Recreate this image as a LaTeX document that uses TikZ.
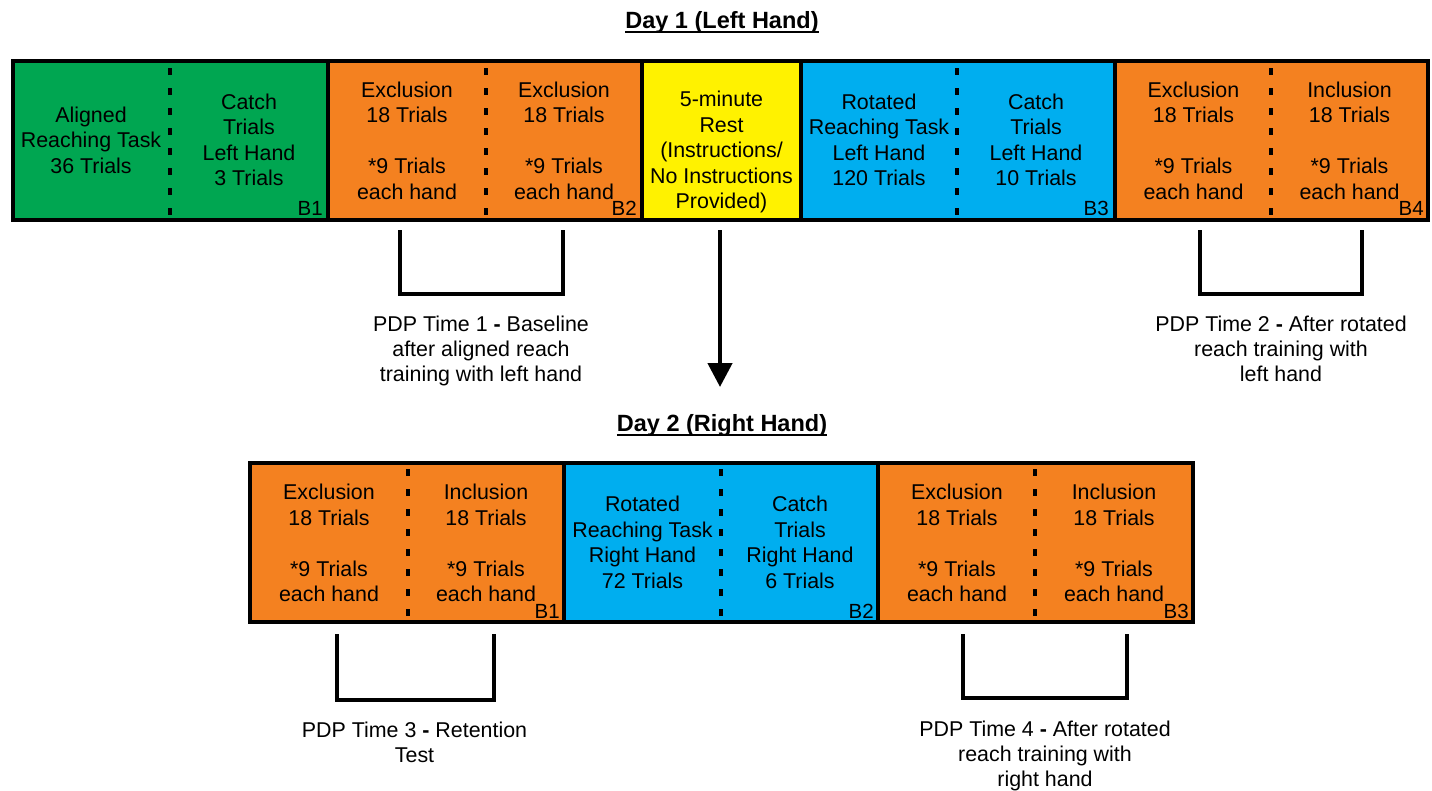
\documentclass[tikz,border=0pt]{standalone}
\usepackage{fontspec}
\setmainfont{Liberation Sans}
\usetikzlibrary{arrows.meta}
\definecolor{cgreen}{RGB}{0,166,81}
\definecolor{corange}{RGB}{244,129,32}
\definecolor{cyellow}{RGB}{255,242,0}
\definecolor{cblue}{RGB}{0,174,239}
\begin{document}
\begin{tikzpicture}[x=1pt,y=-1pt,
  block/.style={draw=black, line width=4pt, fill=#1, inner sep=0pt, outer sep=0pt, anchor=north west, minimum height=159pt},
  dashdiv/.style={draw=black, line width=3.6pt, dash pattern=on 7pt off 13pt},
  txt/.style={font=\fontsize{21.4}{25.5}\selectfont, align=center, inner sep=0pt},
  blabel/.style={font=\fontsize{20.5}{24}\selectfont, inner sep=0pt, anchor=base east},
  daytitle/.style={font=\fontsize{23.5}{28}\selectfont\bfseries, inner sep=0pt, outer sep=0pt, anchor=base},
  uline/.style={draw=black, line width=2pt},
  bracket/.style={draw=black, line width=4pt},
  pdp/.style={font=\fontsize{21.4}{25}\selectfont, align=center, inner sep=0pt},
  flow/.style={draw=black, line width=4.5pt, -{Triangle[width=24pt,length=24pt]}},
]
\useasboundingbox (0,0) rectangle (1432,790);

% ---------- Day 1 ----------
\node[daytitle] (d1) at (722,28) {Day 1 (Left Hand)};
\draw[uline] ([yshift=-3.5pt]d1.base west) -- ([yshift=-3.5pt]d1.base east);

\node[block=cgreen,  minimum width=315.5pt] (a1) at (12.5,60.5) {};
\node[block=corange, minimum width=314pt]   (a2) at (328,60.5) {};
\node[block=cyellow, minimum width=159pt]   (a3) at (642,60.5) {};
\node[block=cblue,   minimum width=314pt]   (a4) at (801,60.5) {};
\node[block=corange, minimum width=313pt]   (a5) at (1115,60.5) {};

\draw[dashdiv] (170,68) -- (170,218);
\draw[dashdiv] (486,68) -- (486,218);
\draw[dashdiv] (957,68) -- (957,218);
\draw[dashdiv] (1271,68) -- (1271,218);

\node[txt] (a1l) at (91,140) {Aligned\\Reaching Task\\36 Trials};
\node[txt] (a1r) at (249,140) {Catch\\Trials\\Left Hand\\3 Trials};
\node[txt] (a2l) at (407,140.5) {Exclusion\\18 Trials\\[25.5pt]{*}9 Trials\\each hand};
\node[txt] (a2r) at (564,140.5) {Exclusion\\18 Trials\\[25.5pt]{*}9 Trials\\each hand};
\node[txt] (a3c) at (721.5,152) {5-minute\\Rest\\(Instructions/\\No Instructions\\Provided)};
\node[txt] (a4l) at (879,140) {Rotated\\Reaching Task\\Left Hand\\120 Trials};
\node[txt] (a4r) at (1036,140) {Catch\\Trials\\Left Hand\\10 Trials};
\node[txt] (a5l) at (1193.5,140.5) {Exclusion\\18 Trials\\[25.5pt]{*}9 Trials\\each hand};
\node[txt] (a5r) at (1349.5,140.5) {Inclusion\\18 Trials\\[25.5pt]{*}9 Trials\\each hand};

\node[blabel] (b11) at (323,215) {B1};
\node[blabel] (b12) at (637,215) {B2};
\node[blabel] (b13) at (1109,215) {B3};
\node[blabel] (b14) at (1424,215) {B4};

\draw[bracket] (400,230) -- (400,294) -- (563,294) -- (563,230);
\draw[bracket] (1200,230) -- (1200,293.5) -- (1362,293.5) -- (1362,230);

\node[pdp] (p1) at (481,350.5) {PDP Time 1 {\bfseries -} Baseline\\after aligned reach\\training with left hand};
\node[pdp] (p2) at (1281,349) {PDP Time 2 {\bfseries -} After rotated\\reach training with\\left hand};

% ---------- transition arrow ----------
\coordinate (arrEnd) at (720,387);
\draw[flow] ([xshift=-1.5pt,yshift=-10.5pt]a3.south) -- (arrEnd);

% ---------- Day 2 ----------
\node[daytitle] (d2) at (722,431) {Day 2 (Right Hand)};
\draw[uline] ([yshift=-3.8pt]d2.base west) -- ([yshift=-3.8pt]d2.base east);

\node[block=corange, minimum width=314.5pt] (c1) at (249.5,463) {};
\node[block=cblue,   minimum width=314pt]   (c2) at (564,463) {};
\node[block=corange, minimum width=315pt]   (c3) at (878,463) {};

\draw[dashdiv] (408,469) -- (408,620);
\draw[dashdiv] (721,469) -- (721,620);
\draw[dashdiv] (1035,469) -- (1035,620);

\node[txt] (c1l) at (329,543) {Exclusion\\18 Trials\\[25.5pt]{*}9 Trials\\each hand};
\node[txt] (c1r) at (486,543) {Inclusion\\18 Trials\\[25.5pt]{*}9 Trials\\each hand};
\node[txt] (c2l) at (642.5,542.5) {Rotated\\Reaching Task\\Right Hand\\72 Trials};
\node[txt] (c2r) at (800,542.5) {Catch\\Trials\\Right Hand\\6 Trials};
\node[txt] (c3l) at (957,543) {Exclusion\\18 Trials\\[25.5pt]{*}9 Trials\\each hand};
\node[txt] (c3r) at (1114,543) {Inclusion\\18 Trials\\[25.5pt]{*}9 Trials\\each hand};

\node[blabel] (b21) at (560,618) {B1};
\node[blabel] (b22) at (874,618) {B2};
\node[blabel] (b23) at (1189,618) {B3};

\draw[bracket] (337,634) -- (337,699.5) -- (494,699.5) -- (494,634);
\draw[bracket] (963,634) -- (963,697.5) -- (1127,697.5) -- (1127,634);

\node[pdp] (p3) at (414.5,742) {PDP Time 3 {\bfseries -} Retention\\Test};
\node[pdp] (p4) at (1045,756) {PDP Time 4 {\bfseries -} After rotated\\reach training with\\right hand};
\end{tikzpicture}
\end{document}
